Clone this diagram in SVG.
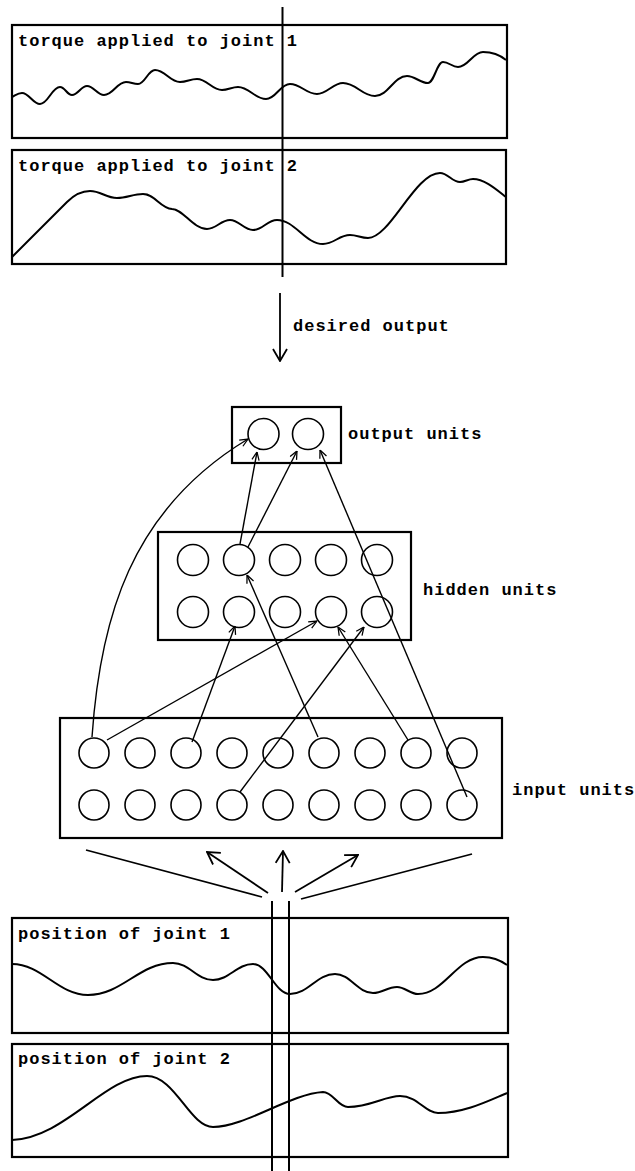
<svg xmlns="http://www.w3.org/2000/svg" width="635" height="1171" viewBox="0 0 635 1171">
  <style>
    .frame { fill: none; stroke: #000; stroke-width: 2.2; }
    .wave { fill: none; stroke: #000; stroke-width: 2; stroke-linejoin: round; }
    .unit { fill: none; stroke: #000; stroke-width: 1.6; }
    .conn { fill: none; stroke: #000; stroke-width: 1.4; }
    .flow { fill: none; stroke: #000; stroke-width: 1.8; }
    .rule { stroke: #000; stroke-width: 2; }
    .lbl { font-family: "Liberation Mono", "DejaVu Sans Mono", monospace; font-size: 17px; font-weight: bold; letter-spacing: 1px; fill: #000; }
  </style>
  <defs>
    <marker id="tip" viewBox="0 0 10 10" refX="10" refY="5" markerWidth="9" markerHeight="9" markerUnits="userSpaceOnUse" orient="auto">
      <path d="M1,1 L10,5 L1,9" fill="none" stroke="#000" stroke-width="1.4"/>
    </marker>
    <marker id="bigtip" viewBox="0 0 14 16" refX="13" refY="8" markerWidth="14" markerHeight="16" markerUnits="userSpaceOnUse" orient="auto">
      <path d="M1,1 L13,8 L1,15" fill="none" stroke="#000" stroke-width="1.8"/>
    </marker>
  </defs>

  <rect x="0" y="0" width="635" height="1171" fill="#fff"/>

  <!-- torque traces -->
  <g id="torque1">
    <rect class="frame" x="12" y="25" width="495" height="113"/>
    <text class="lbl" x="18" y="46">torque applied to joint 1</text>
    <path class="wave" d="M12,97 C16,95 18,93 22,93 C29,93 33,104 40,104 C48,104 52,87 60,87 C65,87 67,95 72,95 C78,95 81,86 87,86 C94,86 97,95 104,95 C113,95 117,82 126,82 C131,82 133,84 138,84 C145,84 148,70 155,70 C165,70 170,82 180,82 C187,82 190,79 197,79 C207,79 212,90 222,90 C228,90 232,87 238,87 C249,87 255,99 266,99 C276,99 280,84 290,84 C301,84 306,94 317,94 C327,94 333,83 343,83 C356,83 362,96 375,96 C388,96 394,76 407,76 C415,76 420,83 428,83 C434,83 437,62 443,62 C449,62 452,67 458,67 C468,67 473,52 483,52 C493,52 500,55 506,60"/>
  </g>
  <g id="torque2">
    <rect class="frame" x="12" y="150" width="494" height="114"/>
    <text class="lbl" x="18" y="171">torque applied to joint 2</text>
    <path class="wave" d="M12,257 L67,202 C75,194 82,191 90,191 C101,191 106,198 117,198 C127,198 133,194 143,194 C155,194 160,208 172,209 C183,209 193,229 207,229 C216,229 221,220 230,220 C239,220 244,230 253,230 C263,230 267,220 277,220 C295,220 305,244 323,244 C334,244 339,235 350,235 C357,235 361,238 368,238 C390,238 415,173 440,173 C448,173 452,182 460,182 C465,182 468,179 473,179 C485,179 497,190 506,197"/>
  </g>
  <line class="rule" x1="282.5" y1="7" x2="282.5" y2="277"/>

  <!-- target signal into the output layer -->
  <g id="desired">
    <line class="flow" x1="280" y1="293" x2="280" y2="361" marker-end="url(#bigtip)"/>
    <text class="lbl" x="293" y="331">desired output</text>
  </g>

  <!-- network layers -->
  <g id="output-units">
    <rect class="frame" x="232" y="407" width="109" height="56"/>
    <circle class="unit" cx="263.5" cy="434" r="15.5"/>
    <circle class="unit" cx="308" cy="434" r="15.5"/>
    <text class="lbl" x="348" y="439">output units</text>
  </g>

  <g id="hidden-units">
    <rect class="frame" x="158" y="532" width="253" height="108"/>
    <circle class="unit" cx="193" cy="560" r="15.5"/>
    <circle class="unit" cx="239" cy="560" r="15.5"/>
    <circle class="unit" cx="285" cy="560" r="15.5"/>
    <circle class="unit" cx="331" cy="560" r="15.5"/>
    <circle class="unit" cx="377" cy="560" r="15.5"/>
    <circle class="unit" cx="193" cy="612" r="15.5"/>
    <circle class="unit" cx="239" cy="612" r="15.5"/>
    <circle class="unit" cx="285" cy="612" r="15.5"/>
    <circle class="unit" cx="331" cy="612" r="15.5"/>
    <circle class="unit" cx="377" cy="612" r="15.5"/>
    <text class="lbl" x="423" y="595">hidden units</text>
  </g>

  <g id="input-units">
    <rect class="frame" x="60" y="718" width="442" height="120"/>
    <circle class="unit" cx="94" cy="753" r="15"/>
    <circle class="unit" cx="140" cy="753" r="15"/>
    <circle class="unit" cx="186" cy="753" r="15"/>
    <circle class="unit" cx="232" cy="753" r="15"/>
    <circle class="unit" cx="278" cy="753" r="15"/>
    <circle class="unit" cx="324" cy="753" r="15"/>
    <circle class="unit" cx="370" cy="753" r="15"/>
    <circle class="unit" cx="416" cy="753" r="15"/>
    <circle class="unit" cx="462" cy="753" r="15"/>
    <circle class="unit" cx="94" cy="805" r="15"/>
    <circle class="unit" cx="140" cy="805" r="15"/>
    <circle class="unit" cx="186" cy="805" r="15"/>
    <circle class="unit" cx="232" cy="805" r="15"/>
    <circle class="unit" cx="278" cy="805" r="15"/>
    <circle class="unit" cx="324" cy="805" r="15"/>
    <circle class="unit" cx="370" cy="805" r="15"/>
    <circle class="unit" cx="416" cy="805" r="15"/>
    <circle class="unit" cx="462" cy="805" r="15"/>
    <text class="lbl" x="512" y="795">input units</text>
  </g>

  <!-- weighted connections between units -->
  <g id="connections">
    <path class="conn" d="M92,737 C100,620 130,510 248,439" marker-end="url(#tip)"/>
    <line class="conn" x1="107" y1="740" x2="317" y2="621" marker-end="url(#tip)"/>
    <line class="conn" x1="192" y1="742" x2="235" y2="626" marker-end="url(#tip)"/>
    <line class="conn" x1="240" y1="792" x2="364" y2="627" marker-end="url(#tip)"/>
    <line class="conn" x1="408" y1="740" x2="338" y2="627" marker-end="url(#tip)"/>
    <line class="conn" x1="318" y1="737" x2="247" y2="575" marker-end="url(#tip)"/>
    <line class="conn" x1="467" y1="797" x2="320" y2="450" marker-end="url(#tip)"/>
    <line class="conn" x1="240" y1="544" x2="257" y2="452" marker-end="url(#tip)"/>
    <line class="conn" x1="248" y1="547" x2="297" y2="451" marker-end="url(#tip)"/>
  </g>

  <!-- sampled window fanning out to the input layer -->
  <g id="input-fan">
    <line class="flow" x1="86" y1="850" x2="262" y2="897"/>
    <line class="flow" x1="268" y1="893" x2="207" y2="852" marker-end="url(#bigtip)"/>
    <line class="flow" x1="282" y1="892" x2="283" y2="851" marker-end="url(#bigtip)"/>
    <line class="flow" x1="295" y1="892" x2="358" y2="855" marker-end="url(#bigtip)"/>
    <line class="flow" x1="301" y1="899" x2="472" y2="854"/>
  </g>

  <!-- position traces -->
  <g id="position1">
    <rect class="frame" x="12" y="918" width="496" height="115"/>
    <text class="lbl" x="18" y="939">position of joint 1</text>
    <path class="wave" d="M12,964 C42,964 58,995 88,995 C122,995 139,963 173,963 C189,963 197,980 213,980 C229,980 237,964 253,964 C268,964 275,994 290,994 C308,994 317,974 335,974 C350,974 358,993 373,993 C383,993 387,987 397,987 C405,987 410,994 418,994 C444,994 457,957 483,957 C493,957 500,960 507,965"/>
  </g>
  <g id="position2">
    <rect class="frame" x="12" y="1044" width="496" height="113"/>
    <text class="lbl" x="18" y="1064">position of joint 2</text>
    <path class="wave" d="M12,1140 C65,1138 105,1076 147,1076 C175,1076 190,1127 213,1127 C245,1127 290,1094 323,1092 C333,1092 338,1107 348,1107 C370,1107 385,1096 400,1096 C418,1096 425,1113 438,1113 C465,1113 490,1100 507,1093"/>
  </g>
  <line class="rule" x1="272" y1="901" x2="272" y2="1171"/>
  <line class="rule" x1="289" y1="901" x2="289" y2="1171"/>
</svg>
